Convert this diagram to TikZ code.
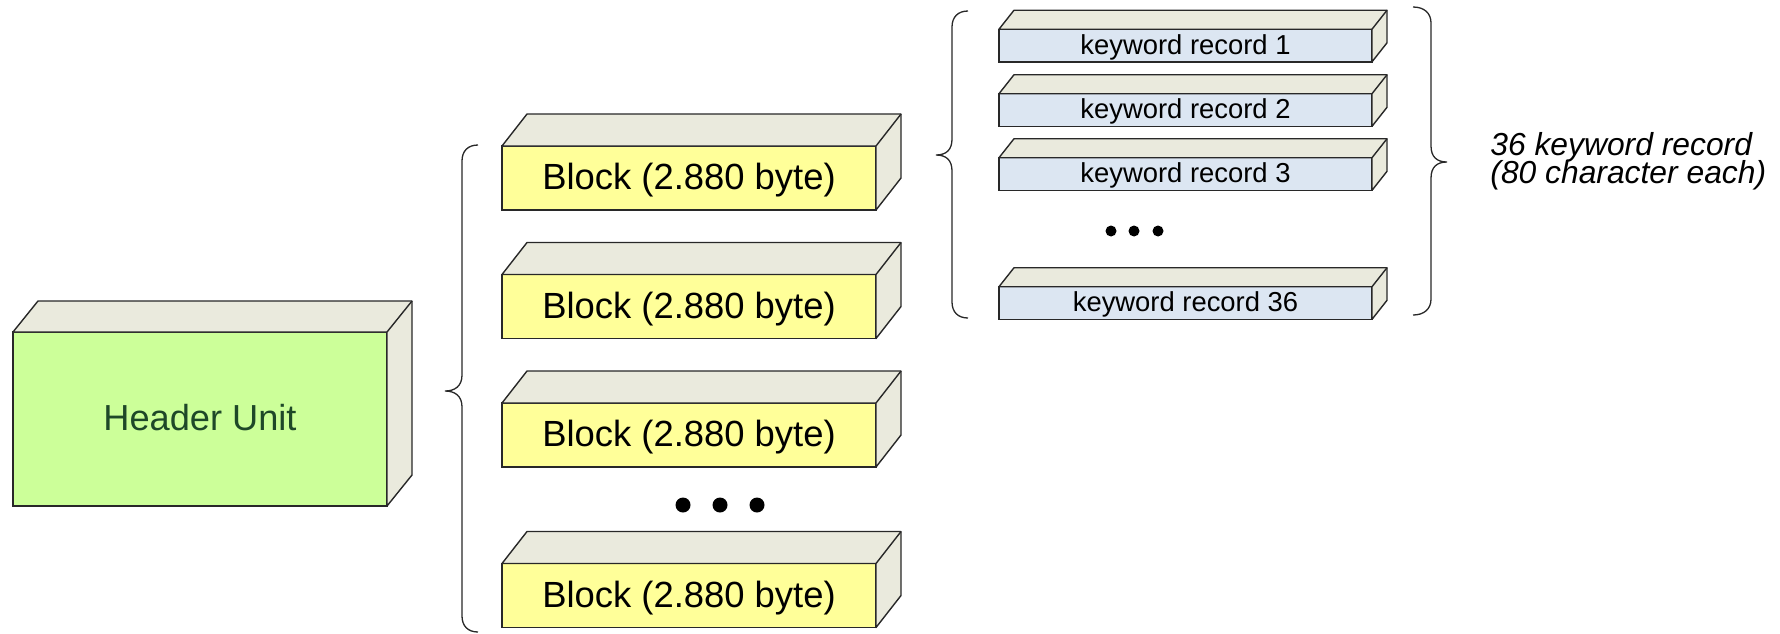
\documentclass[tikz,border=0pt]{standalone}
\usepackage{fontspec}
\setmainfont{Liberation Sans}

\definecolor{edgecol}{RGB}{40,40,40}
\definecolor{depthcol}{RGB}{234,234,221}
\definecolor{hdrfront}{RGB}{204,255,153}
\definecolor{hdrtext}{RGB}{30,72,40}
\definecolor{blockfront}{RGB}{255,255,153}
\definecolor{recfront}{RGB}{220,230,242}

% top and side faces of a box, behind its front face node
\newcommand\cubedepth[3]{%
  \draw[depthface] (#1.north west) -- ([shift={(#2,#3)}]#1.north west)
    -- ([shift={(#2,#3)}]#1.north east) -- ([shift={(#2,#3)}]#1.south east)
    -- (#1.south east) -- (#1.north east) -- cycle;
  \draw[depthface] (#1.north east) -- ([shift={(#2,#3)}]#1.north east);}

\begin{document}
\begin{tikzpicture}[x=0.5pt,y=-0.5pt,
  face/.style={draw=edgecol, line width=0.7pt, outer sep=0pt, inner sep=0pt},
  depthface/.style={draw=edgecol, fill=depthcol, line width=0.7pt, line join=round},
  headerbox/.style={face, fill=hdrfront, minimum width=187pt, minimum height=87pt,
    text=hdrtext, font=\fontsize{18.1pt}{20pt}\selectfont,
    text height=13.2pt, text depth=1.8pt},
  blockbox/.style={face, fill=blockfront, minimum width=187pt, minimum height=32pt,
    font=\fontsize{18.2pt}{20pt}\selectfont, text height=13.3pt, text depth=1.8pt},
  recbox/.style={face, fill=recfront, minimum width=186.5pt, minimum height=16.3pt,
    font=\fontsize{13.7pt}{15pt}\selectfont, text height=10pt, text depth=1.4pt},
  bracepath/.style={draw=edgecol, line width=0.65pt},
  note/.style={anchor=base west, inner sep=0pt, align=left,
    font=\fontsize{15.9pt}{17pt}\selectfont\itshape}]

\useasboundingbox (0,0) rectangle (1780,633);

% header unit
\node[headerbox] (hdr) at (200,419) {Header Unit};
\cubedepth{hdr}{25}{-31}

% blocks of the header unit
\node[blockbox] (b1) at (689,178) {Block (2.880 byte)};
\node[blockbox] (b2) at (689,306.5) {Block (2.880 byte)};
\node[blockbox] (b3) at (689,435) {Block (2.880 byte)};
\node[blockbox] (b4) at (689,595.5) {Block (2.880 byte)};
\foreach \b in {b1,b2,b3,b4}{\cubedepth{\b}{25}{-32}}

\foreach \x in {683,720,757}{\fill[black] (\x,505) circle (3.75pt);}

% keyword records of one block
\node[recbox] (r1) at (1185.5,45.5) {keyword record 1};
\node[recbox] (r2) at (1185.5,110) {keyword record 2};
\node[recbox] (r3) at (1185.5,174) {keyword record 3};
\node[recbox] (r36) at (1185.5,303) {keyword record 36};
\foreach \r in {r1,r2,r3,r36}{\cubedepth{\r}{15}{-19}}

\foreach \x in {1111,1134,1158}{\fill[black] (\x,231) circle (2.75pt);}

% braces
\draw[bracepath] (478,145) .. controls (468,145) and (462,151) .. (462,161)
  -- (462,375) .. controls (462,386) and (455,391) .. (445,391)
  .. controls (455,391) and (462,396) .. (462,407)
  -- (462,616) .. controls (462,626) and (468,632) .. (478,632);

\draw[bracepath] (968,11) .. controls (958,11) and (952,17) .. (952,27)
  -- (952,139) .. controls (952,150) and (946,155) .. (936,155)
  .. controls (946,155) and (952,160) .. (952,171)
  -- (952,302) .. controls (952,312) and (958,318) .. (968,318);

\draw[bracepath] (1413,7) .. controls (1424,7) and (1431,13) .. (1431,23)
  -- (1431,146) .. controls (1431,157) and (1437,162) .. (1447,162)
  .. controls (1437,162) and (1431,167) .. (1431,178)
  -- (1431,299) .. controls (1431,309) and (1424,315) .. (1413,315);

\node[note] (note) at (1490,183) {36 keyword record\\[-3pt](80 character each)};
\end{tikzpicture}
\end{document}
